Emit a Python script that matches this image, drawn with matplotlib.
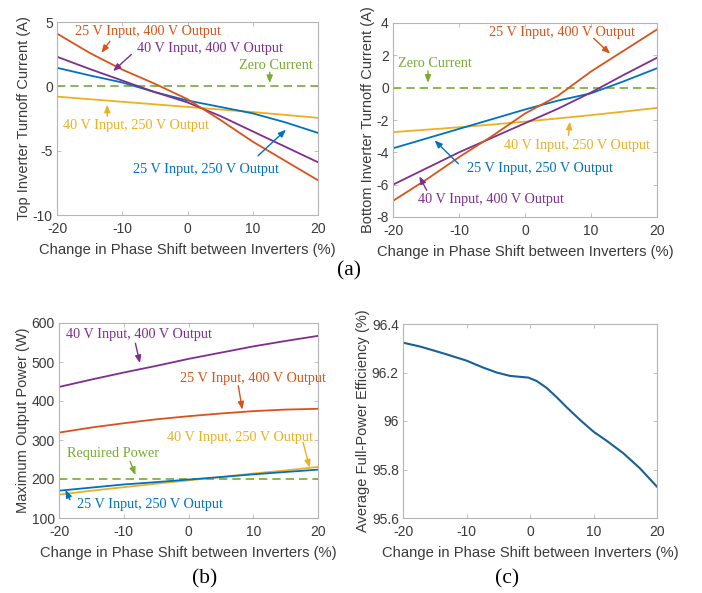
import matplotlib
matplotlib.use("Agg")
import matplotlib.pyplot as plt

plt.rcParams["axes.unicode_minus"] = False

# Phase shift change (%) sample points
shift = [-20, -15, -10, -5, 0, 5, 10, 15, 20]
shift_c = [-20, -17.3, -13.65, -10, -7.35, -5.25, -3.15, -0.25, 1.05, 2.6,
           4.2, 5.8, 7.9, 10, 12.1, 14.7, 17.3, 20]

# (a) top inverter turnoff current (A)
top_25_400 = [4.1, 2.6, 1.3, 0.2, -1.0, -2.6, -4.3, -5.8, -7.3]
top_40_400 = [2.3, 1.35, 0.45, -0.45, -1.25, -2.3, -3.5, -4.7, -5.9]
top_25_250 = [1.44, 0.85, 0.3, -0.45, -1.1, -1.6, -2.1, -2.8, -3.62]
top_40_250 = [-0.8, -1.0, -1.2, -1.4, -1.6, -1.8, -2.0, -2.22, -2.45]

# (a) bottom inverter turnoff current (A)
bot_25_400 = [-7.0, -5.7, -4.3, -3.0, -1.6, -0.5, 1.0, 2.3, 3.6]
bot_40_400 = [-6.0, -5.0, -4.0, -3.1, -2.2, -1.3, -0.3, 0.8, 1.85]
bot_25_250 = [-3.75, -3.15, -2.55, -1.95, -1.35, -0.8, -0.35, 0.4, 1.2]
bot_40_250 = [-2.75, -2.6, -2.45, -2.28, -2.1, -1.9, -1.7, -1.48, -1.25]

# (b) maximum output power (W)
pow_40_400 = [436, 455, 473, 490, 508, 524, 540, 554, 567]
pow_25_400 = [319, 332, 343, 353, 361, 368, 374, 378, 380]
pow_40_250 = [160, 170, 179, 188, 196.5, 205, 214, 222, 231]
pow_25_250 = [170, 178, 186, 192, 198.5, 205, 212, 218, 224]
required_power = 200

# (c) average full-power efficiency (%)
eff = [96.323, 96.307, 96.279, 96.249, 96.22, 96.2, 96.186, 96.179, 96.165,
       96.137, 96.098, 96.056, 96.004, 95.956, 95.918, 95.867, 95.805, 95.729]

BLUE = "#0072BD"
ORANGE = "#D95319"
YELLOW = "#EDB120"
PURPLE = "#7E2F8E"
GREEN = "#77AC30"

SANS = "Liberation Sans"
SERIF = "Liberation Serif"
AX_COLOR = "#b5b5b5"
TXT_COLOR = "#3a3a3a"
XLABEL = "Change in Phase Shift between Inverters (%)"

fig = plt.figure(figsize=(7.02, 5.93), dpi=100)


def style(ax, xlim, ylim, yticks, ylabel):
    ax.set_xlim(*xlim)
    ax.set_ylim(*ylim)
    ax.set_xticks([-20, -10, 0, 10, 20])
    ax.set_yticks(yticks)
    for s in ax.spines.values():
        s.set_color(AX_COLOR)
        s.set_linewidth(0.8)
    ax.tick_params(direction="in", length=3, width=0.6, color=AX_COLOR,
                   top=True, right=True, labelsize=10, labelcolor=TXT_COLOR)
    ax.tick_params(axis="x", pad=5)
    ax.tick_params(axis="y", pad=3)
    for lab in ax.get_xticklabels() + ax.get_yticklabels():
        lab.set_fontfamily(SANS)
    ax.set_xlabel(XLABEL, fontsize=10.6, family=SANS, color=TXT_COLOR, labelpad=5)
    ax.set_ylabel(ylabel, fontsize=10.5, family=SANS, color=TXT_COLOR, labelpad=1)


def note(ax, text, color, xy_text, tail, head):
    ax.text(*xy_text, text, color=color, family=SERIF, fontsize=10.3,
            ha="center", va="center")
    ax.annotate("", xy=head, xytext=tail,
                arrowprops=dict(arrowstyle="-|>,head_length=0.45,head_width=0.18",
                                color=color, lw=1.0, shrinkA=0, shrinkB=0))


LW = 1.3
DASH = (0, (5, 3))

# ---- (a) left: top inverter
ax1 = fig.add_axes([57 / 702, 1 - 215 / 593, 261 / 702, 193 / 593])
ax1.axhline(0, color=GREEN, lw=1.2, ls=DASH)
ax1.plot(shift, top_40_250, color=YELLOW, lw=LW)
ax1.plot(shift, top_25_250, color=BLUE, lw=LW)
ax1.plot(shift, top_40_400, color=PURPLE, lw=LW)
ax1.plot(shift, top_25_400, color=ORANGE, lw=LW)
style(ax1, (-20, 20), (-10, 5), [-10, -5, 0, 5], "Top Inverter Turnoff Current (A)")
note(ax1, "25 V Input, 400 V Output", ORANGE, (-6.0, 4.25), (-11.9, 3.5), (-13.2, 2.6))
note(ax1, "40 V Input, 400 V Output", PURPLE, (3.5, 2.92), (-8.6, 2.48), (-11.4, 1.18))
note(ax1, "Zero Current", GREEN, (13.5, 1.65), (12.6, 1.1), (12.6, 0.25))
note(ax1, "40 V Input, 250 V Output", YELLOW, (-7.9, -3.06), (-12.3, -2.33), (-12.3, -1.42))
note(ax1, "25 V Input, 250 V Output", BLUE, (2.9, -6.44), (10.8, -5.4), (15.1, -3.37))

# ---- (a) right: bottom inverter
ax2 = fig.add_axes([393 / 702, 1 - 217 / 593, 264 / 702, 194 / 593])
ax2.axhline(0, color=GREEN, lw=1.2, ls=DASH)
ax2.plot(shift, bot_40_250, color=YELLOW, lw=LW)
ax2.plot(shift, bot_25_250, color=BLUE, lw=LW)
ax2.plot(shift, bot_40_400, color=PURPLE, lw=LW)
ax2.plot(shift, bot_25_400, color=ORANGE, lw=LW)
style(ax2, (-20, 20), (-8, 4), [-8, -6, -4, -2, 0, 2, 4], "Bottom Inverter Turnoff Current (A)")
note(ax2, "25 V Input, 400 V Output", ORANGE, (5.6, 3.4), (10.4, 3.05), (12.9, 2.1))
note(ax2, "Zero Current", GREEN, (-13.7, 1.48), (-14.7, 1.03), (-14.7, 0.3))
note(ax2, "40 V Input, 250 V Output", YELLOW, (7.85, -3.57), (6.6, -2.95), (6.8, -2.1))
note(ax2, "25 V Input, 250 V Output", BLUE, (2.3, -5.0), (-10.1, -4.7), (-13.7, -3.26))
note(ax2, "40 V Input, 400 V Output", PURPLE, (-5.1, -6.9), (-14.9, -6.35), (-16.0, -5.48))

# ---- (b) maximum output power
ax3 = fig.add_axes([59 / 702, 1 - 518 / 593, 259 / 702, 195 / 593])
ax3.axhline(required_power, color=GREEN, lw=1.2, ls=DASH)
ax3.plot(shift, pow_40_250, color=YELLOW, lw=LW)
ax3.plot(shift, pow_25_250, color=BLUE, lw=LW)
ax3.plot(shift, pow_40_400, color=PURPLE, lw=LW)
ax3.plot(shift, pow_25_400, color=ORANGE, lw=LW)
style(ax3, (-20, 20), (100, 600), [100, 200, 300, 400, 500, 600], "Maximum Output Power (W)")
note(ax3, "40 V Input, 400 V Output", PURPLE, (-7.7, 570), (-8.2, 548), (-7.5, 497))
note(ax3, "25 V Input, 400 V Output", ORANGE, (10.0, 457), (7.7, 439), (8.3, 378))
note(ax3, "40 V Input, 250 V Output", YELLOW, (7.9, 307), (17.7, 294), (18.7, 229))
note(ax3, "Required Power", GREEN, (-11.6, 265), (-9.0, 245), (-8.2, 210))
note(ax3, "25 V Input, 250 V Output", BLUE, (-5.9, 134), (-18.3, 147), (-19.0, 172))

# ---- (c) efficiency
ax4 = fig.add_axes([403 / 702, 1 - 518 / 593, 254 / 702, 194 / 593])
ax4.plot(shift_c, eff, color="#1a5f96", lw=1.5)
style(ax4, (-20, 20), (95.6, 96.4), [95.6, 95.8, 96.0, 96.2, 96.4],
      "Average Full-Power Efficiency (%)")
ax4.set_yticklabels(["95.6", "95.8", "96", "96.2", "96.4"], family=SANS)

# panel captions
fig.text(349.5 / 702, 1 - 271 / 593, "(a)", family=SERIF, fontsize=15.5, ha="center", va="center")
fig.text(204.5 / 702, 1 - 579 / 593, "(b)", family=SERIF, fontsize=15.5, ha="center", va="center")
fig.text(507 / 702, 1 - 579 / 593, "(c)", family=SERIF, fontsize=15.5, ha="center", va="center")

fig.savefig("out.png", dpi=100, facecolor="white")
